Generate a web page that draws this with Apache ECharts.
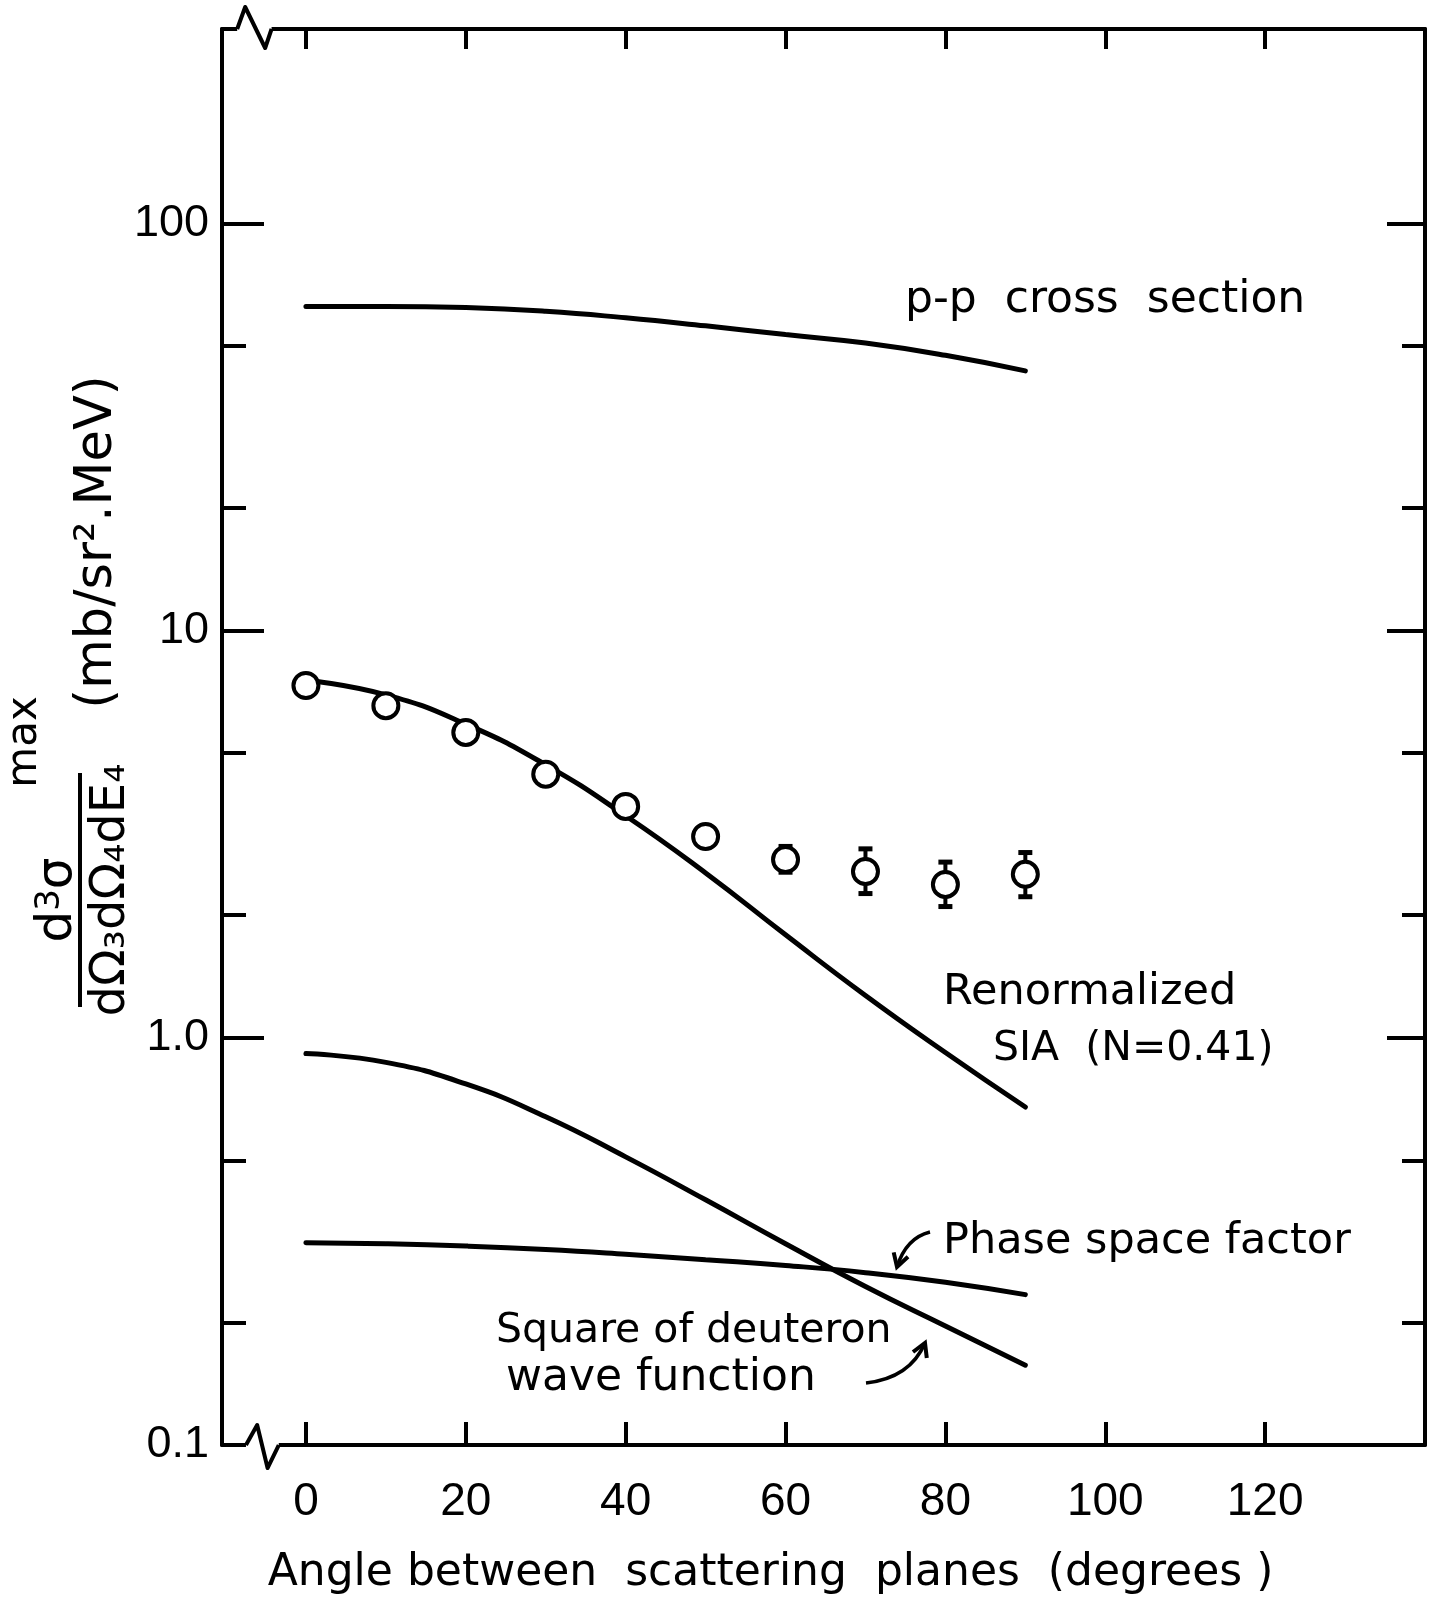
<!DOCTYPE html>
<html>
<head>
<meta charset="utf-8">
<script src="https://cdn.jsdelivr.net/npm/echarts@6/dist/echarts.min.js"></script>
<style>
html,body{margin:0;padding:0;background:#fff;}
#chart{width:1443px;height:1598px;}
</style>
</head>
<body>
<div id="chart"></div>
<script>
// ---------------- data ----------------
const angles      = [0, 10, 20, 30, 40, 50, 60, 70, 80, 90];
const ppCross     = [62.5, 62.5, 62.1, 60.8, 58.6, 56.0, 53.3, 50.8, 47.4, 43.4];
const siaRenorm   = [7.55, 6.95, 5.89, 4.68, 3.51, 2.54, 1.79, 1.27, 0.92, 0.676];
const deuteronSq  = [0.915, 0.87, 0.77, 0.64, 0.51, 0.40, 0.312, 0.245, 0.196, 0.157];
const phaseSpace  = [0.314, 0.312, 0.308, 0.302, 0.294, 0.285, 0.276, 0.265, 0.251, 0.234];

const expAngles   = [0, 10, 20, 30, 40, 50, 60, 70, 80, 90];
const expValues   = [7.33, 6.54, 5.62, 4.44, 3.70, 3.12, 2.74, 2.56, 2.38, 2.52];
const errAngles   = [60, 70, 80, 90];
const errLow      = [2.55, 2.26, 2.10, 2.22];
const errHigh     = [2.95, 2.91, 2.70, 2.85];

const xTickValues = [0, 20, 40, 60, 80, 100, 120];
const yMajorTicks = [0.1, 1, 10, 100];
const yMajorLabels = ['0.1', '1.0', '10', '100'];
const yMinorTicks = [0.2, 0.5, 2, 5, 20, 50];

// ---------------- helpers ----------------
const zip = (xs, ys) => xs.map((x, i) => [x, ys[i]]);
const INK = '#000';
const TICKFONT = "'Liberation Sans','DejaVu Sans',sans-serif";
const FONT = "'DejaVu Sans',sans-serif";

function yLabel(v) {
  const e = Math.round(Math.log10(v));
  const idx = yMajorTicks.findIndex(t => Math.round(Math.log10(t)) === e);
  return idx >= 0 ? yMajorLabels[idx] : '';
}

function arrow(x0, y0, cx, cy, x1, y1) {
  let dx = x1 - cx, dy = y1 - cy;
  const L = Math.hypot(dx, dy); dx /= L; dy /= L;
  const len = 15, a = Math.PI / 6;
  const b1 = [x1 - len * (dx * Math.cos(a) - dy * Math.sin(a)), y1 - len * (dy * Math.cos(a) + dx * Math.sin(a))];
  const b2 = [x1 - len * (dx * Math.cos(-a) - dy * Math.sin(-a)), y1 - len * (dy * Math.cos(-a) + dx * Math.sin(-a))];
  return [
    { type: 'bezierCurve', shape: { x1: x0, y1: y0, cpx1: cx, cpy1: cy, x2: x1, y2: y1 },
      style: { stroke: INK, lineWidth: 3.5, fill: null } },
    { type: 'polyline', shape: { points: [b1, [x1, y1], b2] },
      style: { stroke: INK, lineWidth: 4, fill: null } }
  ];
}

const lineStyleCurve = { color: INK, width: 5, cap: 'round' };
function curve(name, values) {
  return {
    name, type: 'line', data: zip(angles, values), smooth: 0.5,
    symbol: 'none', lineStyle: lineStyleCurve, itemStyle: { color: INK }, z: 3, silent: true
  };
}

const axisLineStyle = { color: INK, width: 4 };
const tickStyle = { color: INK, width: 4 };

function yAx(position, showLine, tickLen, tickValues, labels) {
  return {
    type: 'log', logBase: 10, position, min: 0.1, max: 300,
    axisLine: { show: showLine, onZero: false, lineStyle: axisLineStyle },
    axisTick: { show: true, inside: true, length: tickLen, customValues: tickValues, lineStyle: tickStyle },
    axisLabel: labels
      ? { show: true, customValues: tickValues, formatter: yLabel, margin: 13, fontSize: 45, color: INK, fontFamily: TICKFONT }
      : { show: false },
    splitLine: { show: false }, minorTick: { show: false }
  };
}

const chart = echarts.init(document.getElementById('chart'), null, { renderer: 'canvas' });

const option = {
  backgroundColor: '#fff',
  animation: false,
  grid: { left: 222, right: 18, top: 29, bottom: 153, containLabel: false, outerBoundsMode: 'none' },
  xAxis: [
    {
      type: 'value', position: 'bottom', min: -10.5, max: 140,
      axisLine: { show: true, onZero: false, lineStyle: axisLineStyle },
      axisTick: { show: true, inside: true, length: 23, customValues: xTickValues, lineStyle: tickStyle },
      axisLabel: { show: true, customValues: xTickValues, margin: 34, fontSize: 46, color: INK, fontFamily: TICKFONT },
      splitLine: { show: false },
      name: 'Angle between  scattering  planes  (degrees )',
      nameLocation: 'middle', nameGap: 107,
      nameTextStyle: { fontSize: 44, color: INK, fontFamily: FONT, padding: [0, 106, 0, 0] }
    },
    {
      type: 'value', position: 'top', min: -10.5, max: 140,
      axisLine: { show: true, onZero: false, lineStyle: axisLineStyle },
      axisTick: { show: true, inside: true, length: 20, customValues: xTickValues, lineStyle: tickStyle },
      axisLabel: { show: false }, splitLine: { show: false }
    }
  ],
  yAxis: [
    yAx('left', true, 42, yMajorTicks, true),
    yAx('left', false, 24, yMinorTicks, false),
    yAx('right', true, 38, yMajorTicks, false),
    yAx('right', false, 23, yMinorTicks, false)
  ],
  series: [
    curve('p-p cross section', ppCross),
    curve('Renormalized SIA (N=0.41)', siaRenorm),
    curve('Square of deuteron wave function', deuteronSq),
    curve('Phase space factor', phaseSpace),
    {
      name: 'error bars', type: 'custom', z: 4, silent: true,
      data: errAngles.map((a, i) => [a, errLow[i], errHigh[i]]),
      encode: { x: 0, y: [1, 2] },
      renderItem: function (params, api) {
        const x = api.value(0);
        const lo = api.coord([x, api.value(1)]);
        const hi = api.coord([x, api.value(2)]);
        const cap = 7;
        return {
          type: 'group', children: [
            { type: 'line', shape: { x1: lo[0], y1: lo[1], x2: hi[0], y2: hi[1] }, style: { stroke: INK, lineWidth: 4 } },
            { type: 'line', shape: { x1: lo[0] - cap, y1: lo[1], x2: lo[0] + cap, y2: lo[1] }, style: { stroke: INK, lineWidth: 5 } },
            { type: 'line', shape: { x1: hi[0] - cap, y1: hi[1], x2: hi[0] + cap, y2: hi[1] }, style: { stroke: INK, lineWidth: 5 } }
          ]
        };
      }
    },
    {
      name: 'data', type: 'scatter', data: zip(expAngles, expValues),
      symbol: 'circle', symbolSize: 25, z: 5, silent: true,
      itemStyle: { color: '#fff', borderColor: INK, borderWidth: 4, opacity: 1 }
    },
    {
      name: 'axis breaks', type: 'custom', z: 10, silent: true, clip: false,
      data: [[0, 1]],
      renderItem: function (params, api) {
        const cs = params.coordSys;
        const top = cs.y, bot = cs.y + cs.height;
        const X = v => api.coord([v, 1])[0];
        const white = { stroke: '#fff', lineWidth: 10 };
        const ink = { stroke: INK, lineWidth: 4, fill: null, lineJoin: 'round' };
        return {
          type: 'group', children: [
            { type: 'line', shape: { x1: X(-8.6), y1: top, x2: X(-4.3), y2: top }, style: white },
            { type: 'polyline', shape: { points: [[X(-8.6), top], [X(-7.6), top - 22], [X(-5.1), top + 19], [X(-4.3), top]] }, style: ink },
            { type: 'line', shape: { x1: X(-7.5), y1: bot, x2: X(-3.4), y2: bot }, style: white },
            { type: 'polyline', shape: { points: [[X(-7.5), bot], [X(-6.1), bot - 20], [X(-4.8), bot + 23], [X(-3.4), bot]] }, style: ink }
          ]
        };
      }
    }
  ],
  graphic: [
    // in-plot annotations
    { type: 'text', x: 905, y: 301, style: { text: 'p-p  cross  section', fontSize: 44, fontFamily: FONT, fill: INK, align: 'left', verticalAlign: 'middle' } },
    { type: 'text', x: 943, y: 993, style: { text: 'Renormalized', fontSize: 43, fontFamily: FONT, fill: INK, align: 'left', verticalAlign: 'middle' } },
    { type: 'text', x: 993, y: 1049, style: { text: 'SIA  (N=0.41)', fontSize: 41, fontFamily: FONT, fill: INK, align: 'left', verticalAlign: 'middle' } },
    { type: 'text', x: 943, y: 1242, style: { text: 'Phase space factor', fontSize: 43, fontFamily: FONT, fill: INK, align: 'left', verticalAlign: 'middle' } },
    { type: 'text', x: 496, y: 1331, style: { text: 'Square of deuteron', fontSize: 41, fontFamily: FONT, fill: INK, align: 'left', verticalAlign: 'middle' } },
    { type: 'text', x: 506, y: 1379, style: { text: 'wave function', fontSize: 44, fontFamily: FONT, fill: INK, align: 'left', verticalAlign: 'middle' } },
    ...arrow(930, 1232, 906, 1238, 897, 1267),
    ...arrow(866, 1383, 910, 1378, 925, 1343),
    // y-axis title (rotated fraction)
    { type: 'text', x: 25, y: 742, rotation: Math.PI / 2, style: { text: 'max', fontSize: 42, fontFamily: FONT, fill: INK, align: 'center', verticalAlign: 'middle' } },
    { type: 'text', x: 58, y: 900, rotation: Math.PI / 2,
      style: { text: '{b|d}{s|3}{b|σ}', fill: INK, align: 'center', verticalAlign: 'middle',
        rich: { b: { fontSize: 50, fontFamily: FONT, fill: INK, verticalAlign: 'bottom' },
                s: { fontSize: 34, fontFamily: FONT, fill: INK, verticalAlign: 'top' } } } },
    { type: 'line', shape: { x1: 80, y1: 773, x2: 80, y2: 1007 }, style: { stroke: INK, lineWidth: 4 } },
    { type: 'text', x: 112, y: 890, rotation: Math.PI / 2, style: { text: 'dΩ₃dΩ₄dE₄', fontSize: 48, fontFamily: FONT, fill: INK, align: 'center', verticalAlign: 'middle' } },
    { type: 'text', x: 98, y: 542, rotation: Math.PI / 2, style: { text: '(mb/sr².MeV)', fontSize: 51, fontFamily: FONT, fill: INK, align: 'center', verticalAlign: 'middle' } }
  ]
};

chart.setOption(option);
</script>
</body>
</html>
